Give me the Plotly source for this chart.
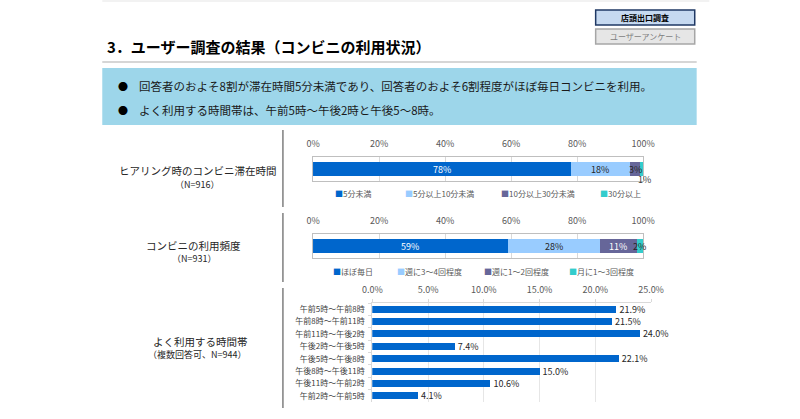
import plotly.graph_objects as go

W, H = 800, 419


def px(x):
    return x / W


def py(y):
    return 1 - y / H


# ---------------- data ----------------
stay_labels = ["5分未満", "5分以上10分未満", "10分以上30分未満", "30分以上"]
stay_values = [78, 18, 3, 1]

freq_labels = ["ほぼ毎日", "週に3～4回程度", "週に1～2回程度", "月に1～3回程度"]
freq_values = [59, 28, 11, 2]

time_labels = ["午前5時～午前8時", "午前8時～午前11時", "午前11時～午後2時", "午後2時～午後5時",
               "午後5時～午後8時", "午後8時～午後11時", "午後11時～午前2時", "午前2時～午前5時"]
time_values = [21.9, 21.5, 24.0, 7.4, 22.1, 15.0, 10.6, 4.1]

pct_ticks = [0, 20, 40, 60, 80, 100]
time_ticks = [0, 5, 10, 15, 20, 25]

# ---------------- styles ----------------
FONT = "Noto Sans CJK JP"
colors = ["#0066CC", "#99CCFF", "#666699", "#33CCCC"]
stay_label_colors = ["white", "#262626", "#262626", "#404040"]
freq_label_colors = ["white", "#262626", "white", "#262626"]
stay_label_shift = [0, 0, 0, -10]
freq_label_shift = [0, 0, 0, 0]
stay_legend_x = [333, 405, 503, 605]
freq_legend_x = [331, 396, 486, 573]

fig = go.Figure()

# stacked bars: chart 1 and 2
for i, (lab, v) in enumerate(zip(stay_labels, stay_values)):
    fig.add_trace(go.Bar(x=[v], y=["s"], orientation="h", name=lab, marker_color=colors[i],
                         marker_line_width=0, width=0.55, xaxis="x", yaxis="y", showlegend=False))
for i, (lab, v) in enumerate(zip(freq_labels, freq_values)):
    fig.add_trace(go.Bar(x=[v], y=["f"], orientation="h", name=lab, marker_color=colors[i],
                         marker_line_width=0, width=0.55, xaxis="x2", yaxis="y2", showlegend=False))

# chart 3
fig.add_trace(go.Bar(x=time_values, y=time_labels, orientation="h", marker_color="#0066CC",
                     marker_line_width=0, width=0.56, xaxis="x3", yaxis="y3", showlegend=False,
                     text=[f"{v:.1f}%" for v in time_values], textposition="outside",
                     constraintext="none",
                     textfont=dict(size=9, color="#262626", family=FONT), cliponaxis=False))

annotations = []


def seg_labels(values, xref, yref, cols, shifts):
    cum = 0
    for v, c, s in zip(values, cols, shifts):
        annotations.append(dict(x=cum + v / 2, y=0, xref=xref, yref=yref, text=f"{v}%",
                                xanchor="center", showarrow=False, yshift=s,
                                xshift=3 if s else 0,
                                font=dict(size=9, color=c, family=FONT)))
        cum += v


seg_labels(stay_values, "x", "y", stay_label_colors, stay_label_shift)
seg_labels(freq_values, "x2", "y2", freq_label_colors, freq_label_shift)


def legend(labels, xs, y):
    for lab, x, c in zip(labels, xs, colors):
        annotations.append(dict(x=px(x), y=py(y), xref="paper", yref="paper", xanchor="left",
                                yanchor="middle", showarrow=False,
                                text=f"<span style='color:{c}'>■</span>{lab}",
                                font=dict(size=8, color="#595959", family=FONT)))


legend(stay_labels, stay_legend_x, 193)
legend(freq_labels, freq_legend_x, 271)


def txt(x, y, t, size, color="#262626", xanchor="center", bold=False):
    annotations.append(dict(x=px(x), y=py(y), xref="paper", yref="paper", xanchor=xanchor,
                            yanchor="middle", showarrow=False,
                            text=f"<b>{t}</b>" if bold else t,
                            font=dict(size=size, color=color, family=FONT)))


# title and header
txt(98, 46, "3．ユーザー調査の結果（コンビニの利用状況）", 15, "#000000", "left", True)
txt(116, 86, "●", 10, "#000000")
txt(116, 110, "●", 10, "#000000")
txt(131, 86, "回答者のおよそ8割が滞在時間5分未満であり、回答者のおよそ6割程度がほぼ毎日コンビニを利用。",
    11.5, "#1a1a1a", "left")
txt(131, 110, "よく利用する時間帯は、午前5時～午後2時と午後5～8時。", 11.5, "#1a1a1a", "left")
txt(654, 17.5, "店頭出口調査", 8, "#000000", "center", True)
txt(654, 36.5, "ユーザーアンケート", 8, "#7F7F7F")

# left labels
txt(194, 171, "ヒアリング時のコンビニ滞在時間", 10.5)
txt(193, 184, "（N=916）", 9)
txt(189, 245, "コンビニの利用頻度", 10.5)
txt(190, 258, "（N=931）", 9)
txt(196, 341, "よく利用する時間帯", 10.5)
txt(193, 354, "（複数回答可、N=944）", 9)

shapes = [
    dict(type="line", xref="paper", yref="paper", x0=px(95), x1=px(720), y0=py(1), y1=py(1),
         line=dict(color="#EEEEEE", width=1.5)),
    dict(type="line", xref="paper", yref="paper", x0=px(95), x1=px(707), y0=py(62), y1=py(62),
         line=dict(color="#D6D6D6", width=2)),
    dict(type="rect", xref="paper", yref="paper", x0=px(95), x1=px(707), y0=py(125), y1=py(68),
         fillcolor="#9DD6EA", line=dict(width=0), layer="below"),
    dict(type="rect", xref="paper", yref="paper", x0=px(603), x1=px(705), y0=py(25), y1=py(10),
         fillcolor="#C6D9F0", line=dict(color="#1F3864", width=1.5), layer="below"),
    dict(type="rect", xref="paper", yref="paper", x0=px(603), x1=px(705), y0=py(44), y1=py(29),
         fillcolor="#E6E6E6", line=dict(color="#A6A6A6", width=1.5), layer="below"),
]
for y0, y1 in [(130, 207), (213, 282), (288, 408)]:
    shapes.append(dict(type="line", xref="paper", yref="paper", x0=px(281), x1=px(281),
                       y0=py(y0), y1=py(y1), line=dict(color="#7F7F7F", width=1.5)))

tickfont = dict(size=9, color="#595959", family=FONT)


def pct_xaxis(dom, anchor):
    return dict(domain=dom, range=[0, 100], side="top", tickmode="array", tickvals=pct_ticks,
                ticktext=[f"{v}%" for v in pct_ticks],
                showgrid=True, gridcolor="#D9D9D9", gridwidth=1, showline=True, mirror=True,
                linecolor="#BFBFBF", zeroline=False, tickfont=tickfont, anchor=anchor,
                ticks="", ticklabelstandoff=5, fixedrange=True)


def single_yaxis(dom, anchor):
    return dict(domain=dom, range=[-0.5, 0.5], showticklabels=False, showline=True, mirror=True,
                linecolor="#BFBFBF", showgrid=False, zeroline=False, anchor=anchor, ticks="",
                fixedrange=True)


fig.update_layout(
    width=W, height=H, margin=dict(l=0, r=0, t=0, b=0), autosize=False,
    paper_bgcolor="white", plot_bgcolor="white",
    barmode="stack", bargap=0.4,
    font=dict(family=FONT),
    xaxis=pct_xaxis([px(312), px(652)], "y"),
    yaxis=single_yaxis([py(181), py(157)], "x"),
    xaxis2=pct_xaxis([px(312), px(652)], "y2"),
    yaxis2=single_yaxis([py(258), py(234)], "x2"),
    xaxis3=dict(domain=[px(373), px(660)], range=[0, 25], side="top", tickmode="array",
                tickvals=time_ticks, ticktext=[f"{v:.1f}%" for v in time_ticks],
                showgrid=True, gridcolor="#E6E6E6",
                showline=True, linecolor="#D9D9D9", ticks="outside", ticklen=3,
                tickcolor="#D9D9D9", zeroline=False, tickfont=tickfont, anchor="y3",
                ticklabelstandoff=2, fixedrange=True),
    yaxis3=dict(domain=[py(402), py(303)], autorange="reversed", showline=True,
                linecolor="#D9D9D9", ticks="outside", ticklen=3, tickcolor="#D9D9D9",
                tickson="boundaries", showgrid=False, zeroline=False,
                tickfont=dict(size=8, color="#404040", family=FONT), anchor="x3",
                ticklabelstandoff=5, fixedrange=True),
    annotations=annotations,
    shapes=shapes,
    showlegend=False,
)

post = "document.body.style.margin='0';document.body.style.overflow='hidden';"
fig.write_html("out.html", config={"responsive": False, "displayModeBar": False},
               post_script=post)
